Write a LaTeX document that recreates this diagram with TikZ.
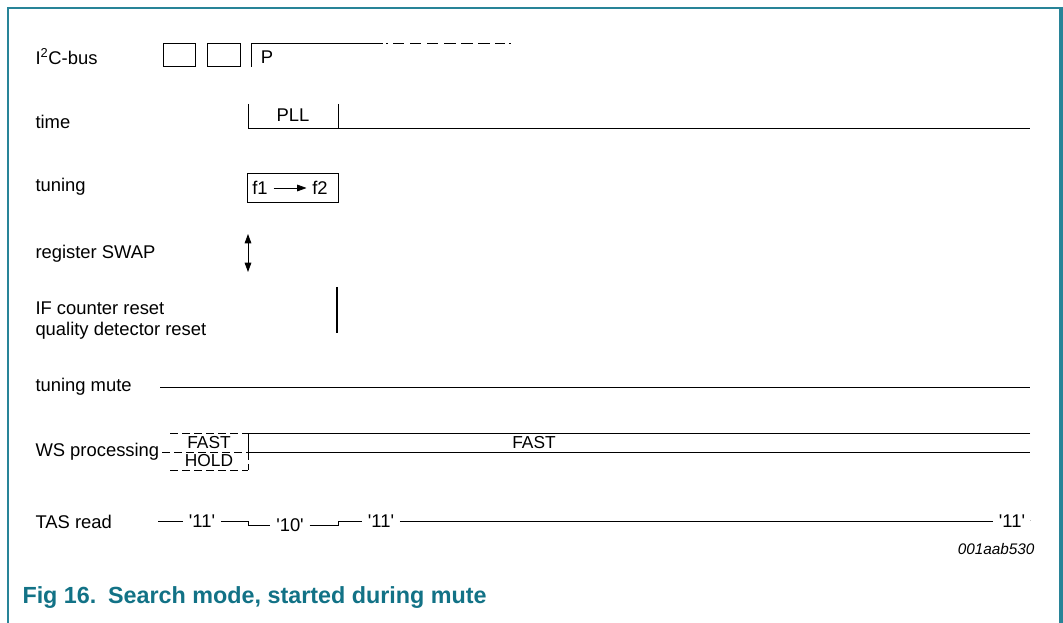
\documentclass[tikz,border=0pt]{standalone}
\usepackage{fontspec}
\setmainfont{Liberation Sans}
\usetikzlibrary{arrows.meta}
\definecolor{figteal}{RGB}{40,132,152}
\definecolor{capteal}{RGB}{18,114,134}
\newcommand{\sq}{\textquotesingle}

\begin{document}
\begin{tikzpicture}[
    x=0.75pt, y=-0.75pt,
    line width=0.75pt,
    every node/.style = {
      inner sep=0pt,
      font=\fontsize{13.8}{16}\selectfont
    },
    signame/.style = {anchor=west},
    small/.style = {font=\fontsize{13}{15}\selectfont},
    wsdash/.style = {dash pattern=on 6pt off 3pt},
    sigarrow/.style = {{Triangle[length=7pt,width=5pt]}-{Triangle[length=7pt,width=5pt]}, line width=0.55pt}
  ]
    \useasboundingbox (0,0) rectangle (1063,623);
    % frame
    \draw[figteal, line width=1.4pt] (8,624) -- (8,8) -- (1061,8);
    \draw[figteal, line width=2.4pt] (1061,7) -- (1061,624);

    % timeline marks
    \coordinate (t0) at (248,0);
    \coordinate (t1) at (338,0);
    \coordinate (tend) at (1030,0);

    % signal names
    \node[signame] (i2c)   at (35,57)  {I\textsuperscript{2}C-bus};
    \node[signame] (time)  at (35,122) {time};
    \node[signame] (tun)   at (35,187) {tuning};
    \node[signame] (swap)  at (35,254) {register SWAP};
    \node[signame] (ifc)   at (35,308) {IF counter reset};
    \node[signame] (qdet)  at (35,331) {quality detector reset};
    \node[signame] (tmute) at (35,387) {tuning mute};
    \node[signame] (wsp)   at (35,452) {WS processing};
    \node[signame] (tas)   at (35,522) {TAS read};

    % I2C-bus
    \draw (163,44) rectangle (195,67);
    \draw (207,44) rectangle (240,67);
    \draw (251,67) -- (251,44) -- (383,44);
    \draw (386,44) -- (388,44);
    \draw[dash pattern=on 8.5pt off 4.3pt] (393,44) -- (505,44);
    \draw (509,44) -- (511,44);
    \node (stop) at (267,57) {P};

    % time
    \draw (t0 |- 0,104) -- (t0 |- 0,129) -- (tend |- 0,129);
    \draw (t1 |- 0,104) -- (t1 |- 0,129);
    \node (pll) at (293,115) {PLL};

    % tuning
    \draw (247,174) rectangle (338,203);
    \node (f1) at (260,188) {f1};
    \node (f2) at (320,188) {f2};
    \draw[-{Triangle[length=7pt,width=5pt]}, line width=0.55pt] ([xshift=4pt]f1.east) -- ([xshift=-4pt]f2.west);

    % register SWAP
    \draw[sigarrow] (t0 |- 0,234) -- (t0 |- 0,272);

    % counter and detector reset
    \draw[line width=1.9pt] (337,287) -- (337,333);

    % tuning mute
    \draw (160,387) -- (tend |- 0,387);

    % WS processing
    \draw[wsdash] (170,433) -- (t0 |- 0,433);
    \draw[wsdash] (162,452) -- (t0 |- 0,452);
    \draw[wsdash] (170,470) -- (t0 |- 0,470);
    \draw[wsdash] (t0 |- 0,452) -- (t0 |- 0,470);
    \node[small] (wfast) at (209,443) {FAST};
    \node[small] (whold) at (209,461) {HOLD};
    \draw (tend |- 0,433) -- (t0 |- 0,433) -- (t0 |- 0,452) -- (tend |- 0,452);
    \node[small] (fast) at (534,443) {FAST};

    % TAS read
    \node (tasA) at (202,521) {\sq11\sq};
    \node (tasB) at (290,525) {\sq10\sq};
    \node (tasC) at (381,521) {\sq11\sq};
    \node (tasD) at (1012,521) {\sq11\sq};
    \coordinate (tasS) at (158,521);
    \draw (tasS) -- ([xshift=-4pt]tasA.west);
    \draw ([xshift=4pt]tasA.east) -- (t0 |- 0,521) -- (t0 |- 0,525) -- ([xshift=-4pt]tasB.west);
    \draw ([xshift=4pt]tasB.east) -- (t1 |- 0,525) -- (t1 |- 0,521) -- ([xshift=-4pt]tasC.west);
    \draw ([xshift=4pt]tasC.east) -- ([xshift=-4pt]tasD.west);
    \draw[gray!50, line width=0.5pt] (1030,520) -- (1031,520);

    \node[anchor=east, font=\fontsize{11.5}{13}\selectfont\itshape] (figid) at (1035,549) {001aab530};

    % caption
    \node[anchor=west, text=capteal, font=\fontsize{17.5}{20}\selectfont\bfseries] (cap) at (22,598)
      {Fig 16.\hspace{0.5em}Search mode, started during mute};
\end{tikzpicture}
\end{document}
